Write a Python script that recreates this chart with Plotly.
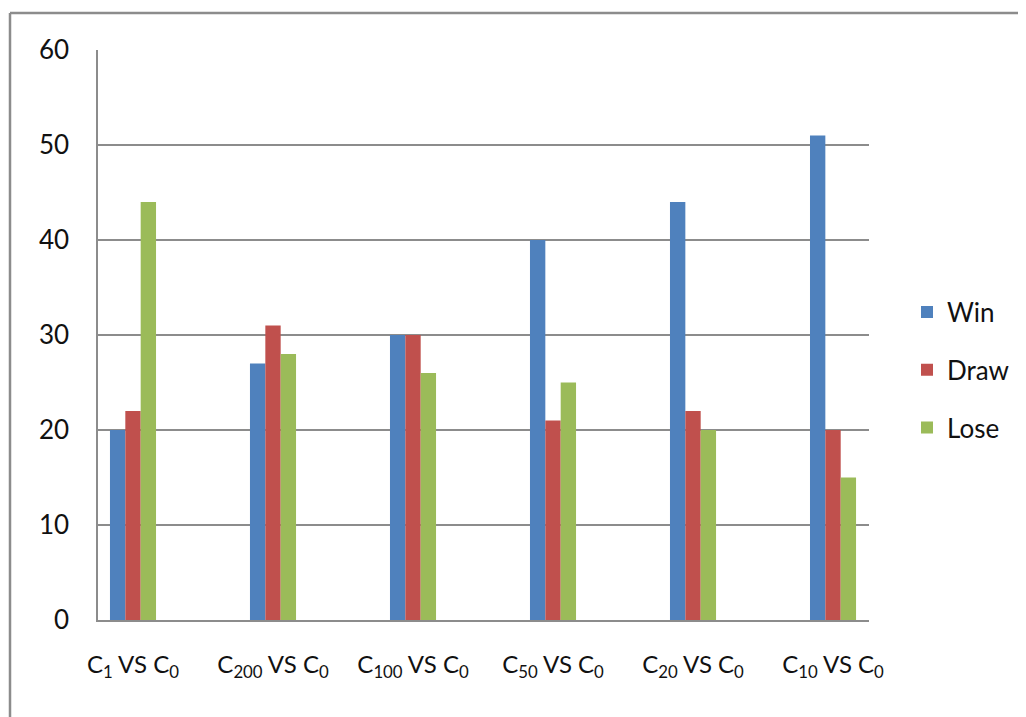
import plotly.graph_objects as go

categories = ["C<sub>1</sub> VS C<sub>0</sub>", "C<sub>200</sub> VS C<sub>0</sub>",
              "C<sub>100</sub> VS C<sub>0</sub>", "C<sub>50</sub> VS C<sub>0</sub>",
              "C<sub>20</sub> VS C<sub>0</sub>", "C<sub>10</sub> VS C<sub>0</sub>"]
win = [20, 27, 30, 40, 44, 51]
draw = [22, 31, 30, 21, 22, 20]
lose = [44, 28, 26, 25, 20, 15]
y_ticks = [0, 10, 20, 30, 40, 50, 60]

FONT = "Lato, Open Sans, sans-serif"
x_idx = list(range(len(categories)))

fig = go.Figure()
fig.add_trace(go.Bar(name="Win", x=x_idx, y=win, legendgroup="w",
                     marker=dict(color="#4F81BD", line=dict(width=0))))
fig.add_trace(go.Bar(name="Draw", x=x_idx, y=draw, legendgroup="d",
                     marker=dict(color="#C0504D", line=dict(width=0))))
fig.add_trace(go.Bar(name="Lose", x=x_idx, y=lose, legendgroup="l",
                     marker=dict(color="#9BBB59", line=dict(width=0))))

OFF = 8  # page body margin offset
W, H = 1026 - OFF, 717 - OFF
L, T = 98 - OFF, 50 - OFF
R = W - (869 - OFF)
B = H - (620 - OFF)
pw, ph = W - L - R, H - T - B

fig.update_layout(
    width=W, height=H,
    margin=dict(l=L, r=R, t=T, b=B, autoexpand=False),
    paper_bgcolor="white", plot_bgcolor="white",
    barmode="group", bargap=0.671, bargroupgap=0,
    font=dict(family=FONT, size=24, color="#111111"),
    legend=dict(x=(907 - 98) / 771, y=(620 - 370) / 570, xanchor="left", yanchor="middle",
                font=dict(size=26), itemsizing="constant", tracegroupgap=21,
                bgcolor="rgba(0,0,0,0)"),
    showlegend=True,
    xaxis=dict(type="linear", range=[-0.25, 5.257], tickmode="array",
               tickvals=x_idx, ticktext=categories, showgrid=False,
               showline=True, linecolor="#8C8C8C", linewidth=1.5,
               ticks="outside", ticklen=22, tickcolor="rgba(0,0,0,0)",
               tickfont=dict(size=24), zeroline=False, automargin=False),
    yaxis=dict(range=[0, 60], tickmode="array", tickvals=y_ticks,
               showgrid=True, gridcolor="#8C8C8C", gridwidth=1.5,
               showline=True, linecolor="#8C8C8C", linewidth=1.5,
               ticks="outside", ticklen=22, tickcolor="rgba(0,0,0,0)",
               tickfont=dict(size=26), zeroline=False, automargin=False),
)

# outer chart border (top and left edges visible)
x10 = (10 - OFF - L) / pw
y13 = (H - B - (13 - OFF)) / ph
fig.add_shape(type="line", xref="paper", yref="paper", x0=x10, x1=(W + 20 - L) / pw,
              y0=y13, y1=y13, line=dict(color="#8C8C8C", width=2.5))
fig.add_shape(type="line", xref="paper", yref="paper", x0=x10, x1=x10,
              y0=y13, y1=(H - B - H - 20) / ph, line=dict(color="#8C8C8C", width=2.5))

fig.write_html("out.html")
